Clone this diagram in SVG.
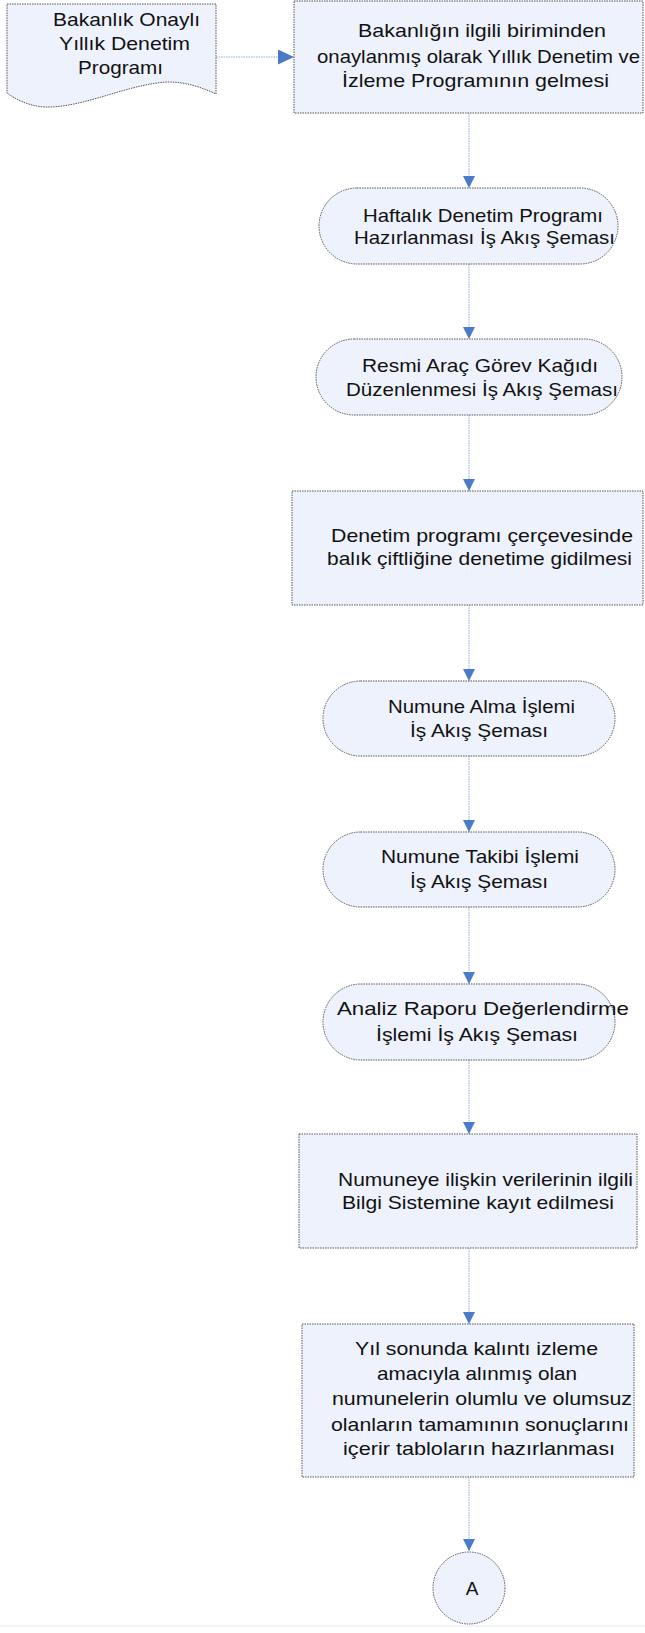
<svg xmlns="http://www.w3.org/2000/svg" width="645" height="1633" viewBox="0 0 645 1633">
<style>
.shape{fill:#eef2fc;stroke:#555555;stroke-width:1;stroke-dasharray:1.5 1}
.t{font-family:"Liberation Sans",Arial,sans-serif;font-size:19px;fill:#111}
.conn{fill:none;stroke:#8fabdc;stroke-width:1;stroke-dasharray:1.5 1}
</style>
<defs>
<marker id="ah" markerUnits="userSpaceOnUse" markerWidth="12" markerHeight="12" refX="12" refY="6" orient="auto">
<path d="M0,0 L12,6 L0,12 Z" fill="#4a7bc9"/>
</marker>
<marker id="ahL" markerUnits="userSpaceOnUse" markerWidth="16" markerHeight="15" refX="16" refY="7.5" orient="auto">
<path d="M0,0 L16,7.5 L0,15 Z" fill="#4a7bc9"/>
</marker>
</defs>
<rect x="0" y="0" width="645" height="1633" fill="#ffffff"/>
<g id="connectors">
<line class="conn" x1="216" y1="57" x2="294" y2="57" marker-end="url(#ahL)"/>
<line class="conn" x1="469" y1="113" x2="469" y2="188" marker-end="url(#ah)"/>
<line class="conn" x1="469" y1="264" x2="469" y2="339" marker-end="url(#ah)"/>
<line class="conn" x1="469" y1="415" x2="469" y2="491" marker-end="url(#ah)"/>
<line class="conn" x1="469" y1="605" x2="469" y2="681" marker-end="url(#ah)"/>
<line class="conn" x1="469" y1="756" x2="469" y2="832" marker-end="url(#ah)"/>
<line class="conn" x1="469" y1="907" x2="469" y2="984" marker-end="url(#ah)"/>
<line class="conn" x1="469" y1="1060" x2="469" y2="1134" marker-end="url(#ah)"/>
<line class="conn" x1="469" y1="1248" x2="469" y2="1324" marker-end="url(#ah)"/>
<line class="conn" x1="469" y1="1477" x2="469" y2="1551" marker-end="url(#ah)"/>
</g>
<g id="n-doc">
<path class="shape" d="M7,4 H216 V94 C195,84 175,80 157,83 C120,88 80,108 45,107 C28,106 15,99 7,93 Z"/>
<text class="t" x="53" y="26" textLength="147" lengthAdjust="spacingAndGlyphs">Bakanlık Onaylı</text>
<text class="t" x="59" y="50" textLength="131" lengthAdjust="spacingAndGlyphs">Yıllık Denetim</text>
<text class="t" x="78" y="74" textLength="85" lengthAdjust="spacingAndGlyphs">Programı</text>
</g>
<g id="n-yillik">
<rect class="shape" x="294" y="1" width="349" height="112"/>
<text class="t" x="358" y="37" textLength="248" lengthAdjust="spacingAndGlyphs">Bakanlığın ilgili biriminden</text>
<text class="t" x="317" y="63" textLength="323" lengthAdjust="spacingAndGlyphs">onaylanmış olarak Yıllık Denetim ve</text>
<text class="t" x="342" y="87" textLength="267" lengthAdjust="spacingAndGlyphs">İzleme Programının gelmesi</text>
</g>
<g id="n-haftalik">
<rect class="shape" x="319" y="188" width="299" height="76" rx="38" ry="38"/>
<text class="t" x="363" y="222" textLength="240" lengthAdjust="spacingAndGlyphs">Haftalık Denetim Programı</text>
<text class="t" x="354" y="244" textLength="261" lengthAdjust="spacingAndGlyphs">Hazırlanması İş Akış Şeması</text>
</g>
<g id="n-resmi">
<rect class="shape" x="316" y="339" width="306" height="76" rx="38" ry="38"/>
<text class="t" x="362" y="372" textLength="236" lengthAdjust="spacingAndGlyphs">Resmi Araç Görev Kağıdı</text>
<text class="t" x="346" y="396" textLength="272" lengthAdjust="spacingAndGlyphs">Düzenlenmesi İş Akış Şeması</text>
</g>
<g id="n-denetim">
<rect class="shape" x="292" y="491" width="351" height="114"/>
<text class="t" x="331" y="542" textLength="302" lengthAdjust="spacingAndGlyphs">Denetim programı çerçevesinde</text>
<text class="t" x="327" y="565" textLength="305" lengthAdjust="spacingAndGlyphs">balık çiftliğine denetime gidilmesi</text>
</g>
<g id="n-numune-alma">
<rect class="shape" x="323" y="681" width="292" height="75" rx="37.5" ry="37.5"/>
<text class="t" x="388" y="713" textLength="187" lengthAdjust="spacingAndGlyphs">Numune Alma İşlemi</text>
<text class="t" x="410" y="737" textLength="138" lengthAdjust="spacingAndGlyphs">İş Akış Şeması</text>
</g>
<g id="n-numune-takibi">
<rect class="shape" x="323" y="832" width="292" height="75" rx="37.5" ry="37.5"/>
<text class="t" x="381" y="863" textLength="198" lengthAdjust="spacingAndGlyphs">Numune Takibi İşlemi</text>
<text class="t" x="410" y="888" textLength="138" lengthAdjust="spacingAndGlyphs">İş Akış Şeması</text>
</g>
<g id="n-analiz">
<rect class="shape" x="323" y="984" width="292" height="76" rx="38" ry="38"/>
<text class="t" x="337" y="1015" textLength="292" lengthAdjust="spacingAndGlyphs">Analiz Raporu Değerlendirme</text>
<text class="t" x="376" y="1041" textLength="202" lengthAdjust="spacingAndGlyphs">İşlemi İş Akış Şeması</text>
</g>
<g id="n-numuneye">
<rect class="shape" x="299" y="1134" width="338" height="114"/>
<text class="t" x="338" y="1186" textLength="295" lengthAdjust="spacingAndGlyphs">Numuneye ilişkin verilerinin ilgili</text>
<text class="t" x="342" y="1209" textLength="272" lengthAdjust="spacingAndGlyphs">Bilgi Sistemine kayıt edilmesi</text>
</g>
<g id="n-yil-sonu">
<rect class="shape" x="302" y="1324" width="332" height="153"/>
<text class="t" x="355" y="1355" textLength="243" lengthAdjust="spacingAndGlyphs">Yıl sonunda kalıntı izleme</text>
<text class="t" x="377" y="1380" textLength="200" lengthAdjust="spacingAndGlyphs">amacıyla alınmış olan</text>
<text class="t" x="332" y="1405" textLength="300" lengthAdjust="spacingAndGlyphs">numunelerin olumlu ve olumsuz</text>
<text class="t" x="331" y="1431" textLength="298" lengthAdjust="spacingAndGlyphs">olanların tamamının sonuçlarını</text>
<text class="t" x="343" y="1455" textLength="272" lengthAdjust="spacingAndGlyphs">içerir tabloların hazırlanması</text>
</g>
<g id="n-a">
<circle class="shape" cx="469" cy="1588" r="36"/>
<text class="t" x="472" y="1595" text-anchor="middle">A</text>
</g>
<line x1="0" y1="1626" x2="645" y2="1626" stroke="#e2e8f4" stroke-width="1"/>
</svg>
